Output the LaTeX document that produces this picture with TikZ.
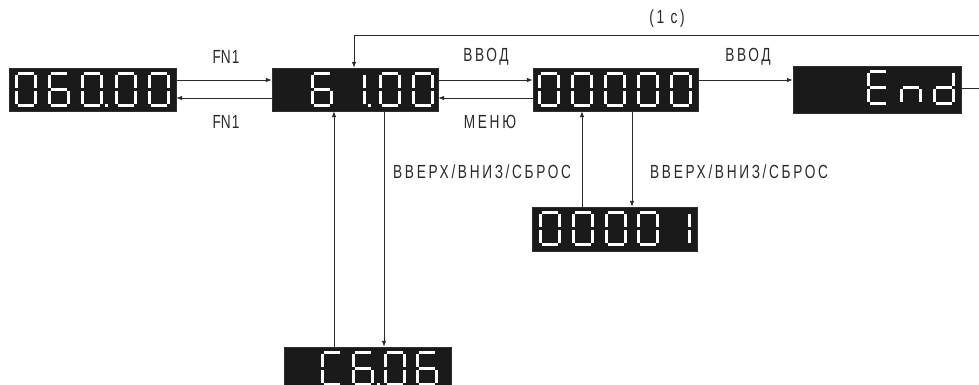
\documentclass[tikz,border=0pt]{standalone}
\usepackage{fontspec}
\setmainfont{Liberation Sans}[FakeStretch=0.72]
\newfontfamily\lblfont{Liberation Sans}[FakeStretch=0.72,LetterSpace=14]
\usetikzlibrary{arrows.meta,calc}
\definecolor{ink}{HTML}{2A2A2A}
\definecolor{lcd}{HTML}{1A1A1A}
\tikzset{
  segline/.style={white, line width=2.8pt, line cap=butt},
  lcdbox/.style={fill=lcd, draw=lcd!80!gray, line width=0.4pt, inner sep=0pt},
  conn/.style={draw=ink, line width=0.8pt, -{Latex[length=6pt,width=4.5pt]}},
  lbl/.style={text=ink, font=\lblfont\fontsize{19}{21}\selectfont, inner sep=0pt},
}
\def\sega{\draw[segline] (2.6,1.4) -- (19.4,1.4);}
\def\segb{\draw[segline] (20.6,2.6) -- (20.6,16.2);}
\def\segc{\draw[segline] (20.6,18.8) -- (20.6,32.4);}
\def\segd{\draw[segline] (2.6,33.6) -- (19.4,33.6);}
\def\sege{\draw[segline] (1.4,18.8) -- (1.4,32.4);}
\def\segf{\draw[segline] (1.4,2.6) -- (1.4,16.2);}
\def\segg{\draw[segline] (2.6,17.5) -- (19.4,17.5);}
\newcommand\lcdchar[3]{\begin{scope}[shift={(#1,#2)}]\foreach \s in {#3}{\csname seg\s\endcsname}\end{scope}}
\newcommand\lcddot[2]{\fill[white] (#1,#2+32) rectangle ++(3,3);}
\begin{document}
\begin{tikzpicture}[x=1pt,y=-1pt]
\useasboundingbox (0,0) rectangle (979,385);
\clip (0,0) rectangle (979,385);

% displays
\node[lcdbox, minimum width=167pt, minimum height=43pt] (D1) at (92.5,89.5) {};
\node[lcdbox, minimum width=166pt, minimum height=43pt] (D2) at (355,89.5) {};
\node[lcdbox, minimum width=165pt, minimum height=43pt] (D3) at (615.5,89.5) {};
\node[lcdbox, minimum width=168pt, minimum height=47pt] (D4) at (877,89.5) {};
\node[lcdbox, minimum width=165pt, minimum height=44pt] (D5) at (614.5,229) {};
\node[lcdbox, minimum width=167pt, minimum height=53pt] (D6) at (367.5,373.5) {};

% D1: 060.00
\lcdchar{15}{72}{a,b,c,d,e,f}
\lcdchar{48}{72}{a,f,g,e,d,c}
\lcdchar{81}{72}{a,b,c,d,e,f}
\lcddot{105}{72}
\lcdchar{115}{72}{a,b,c,d,e,f}
\lcdchar{148}{72}{a,b,c,d,e,f}
% D2: 6 1.00
\lcdchar{311}{72}{a,f,g,e,d,c}
\lcdchar{344}{72}{b,c}
\lcddot{368}{72}
\lcdchar{379}{72}{a,b,c,d,e,f}
\lcdchar{412}{72}{a,b,c,d,e,f}
% D3: 00000
\foreach \xx in {538,571,604,637,670}{\lcdchar{\xx}{72}{a,b,c,d,e,f}}
% D4: End
\lcdchar{867}{70}{a,f,g,e,d}
\lcdchar{900}{70}{e,g,c}
\lcdchar{933}{70}{b,c,d,e,g}
% D5: 0000 1
\foreach \xx in {539,572,605,637}{\lcdchar{\xx}{211}{a,b,c,d,e,f}}
\lcdchar{669}{211}{b,c}
% D6: C6.06
\lcdchar{321}{351}{a,f,e,d}
\lcdchar{352}{351}{a,f,g,e,d,c}
\lcddot{377}{351}
\lcdchar{384}{351}{a,b,c,d,e,f}
\lcdchar{416}{351}{a,f,g,e,d,c}

% connectors
\draw[conn] ([yshift=9.5pt]D1.east) -- ([yshift=9.5pt]D2.west);
\draw[conn] ([yshift=-8.5pt]D2.west) -- ([yshift=-8.5pt]D1.east);
\draw[conn] ([yshift=9.5pt]D2.east) -- ([yshift=9.5pt]D3.west);
\draw[conn] ([yshift=-8.5pt]D3.west) -- ([yshift=-8.5pt]D2.east);
\draw[conn] ([yshift=9.5pt]D3.east) -- ([yshift=9.5pt]D4.west);
\coordinate (loopR) at (990,35);
\coordinate (loopL) at (354,35);
\draw[conn] ([yshift=1.5pt]D4.east) -- ([yshift=1.5pt]D4.east -| loopR) -- (loopR) -- (loopL) -- (loopL |- D2.north);
\draw[conn] ([xshift=-21pt]D2.south |- D6.north) -- ([xshift=-21pt]D2.south);
\draw[conn] ([xshift=29pt]D2.south) -- ([xshift=29pt]D2.south |- D6.north);
\draw[conn] ([xshift=-33.5pt]D3.south |- D5.north) -- ([xshift=-33.5pt]D3.south);
\draw[conn] ([xshift=16.5pt]D3.south) -- ([xshift=16.5pt]D3.south |- D5.north);

% labels
\node[lbl, font=\fontsize{19}{21}\selectfont] (l1) at (226,57) {FN\kern1pt1};
\node[lbl, font=\fontsize{19}{21}\selectfont] (l2) at (226,122) {FN\kern1pt1};
\node[lbl] (l3) at (486,57) {ВВОД};
\node[lbl] (l4) at (490,122) {МЕНЮ};
\node[lbl] (l5) at (748,57) {ВВОД};
\node[lbl] (l6) at (667,19) {(1 с)};
\node[lbl, anchor=west] (l7) at (393,172) {ВВЕРХ/ВНИЗ/СБРОС};
\node[lbl, anchor=west] (l8) at (650,172) {ВВЕРХ/ВНИЗ/СБРОС};
\end{tikzpicture}
\end{document}
